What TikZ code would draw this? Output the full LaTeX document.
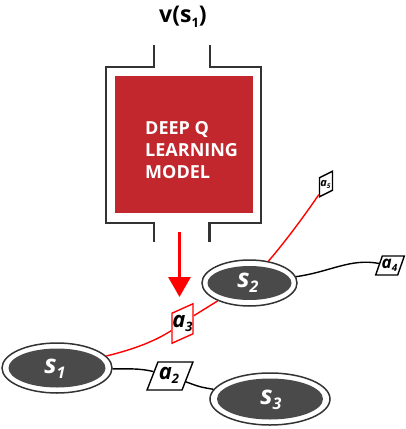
\documentclass[tikz,border=0pt]{standalone}
\usepackage{fontspec}
\setmainfont{Open Sans}
\setsansfont{Open Sans}
\usetikzlibrary{shapes.geometric,arrows.meta}
\definecolor{boxred}{HTML}{C1272D}
\definecolor{darkfill}{HTML}{4A4A4A}
\definecolor{linegray}{HTML}{333333}
\newcommand{\lowsub}[3]{\raisebox{-#2pt}{\fontsize{#1}{#1}\selectfont #3}}
\begin{document}
\begin{tikzpicture}[x=1pt,y=-1pt,
  outerell/.style={ellipse, draw=linegray, line width=1.5, fill=white, inner sep=0},
  innerell/.style={ellipse, fill=darkfill, inner sep=0},
  slabel/.style={text=white, inner sep=0, font=\fontsize{26}{26}\selectfont\bfseries\itshape},
  abox/.style={draw=black, line width=1.4, fill=white, inner sep=0, transform shape},
  alabel/.style={inner sep=0, text=black},
  conn/.style={line width=1.4},
  redconn/.style={line width=1.4, red},
  frame/.style={draw=linegray, line width=2.5}]
\useasboundingbox (0,0) rectangle (406,429);
% title
\node[font=\fontsize{23}{23}\selectfont\bfseries, inner sep=0] (title) at (183,17) {v(s\lowsub{13}{5}{1})};
% container
\draw[frame] (154,45) -- (154,67) -- (106,67) -- (106,223) -- (154,223) -- (154,242);
\draw[frame] (210,45) -- (210,67) -- (261,67) -- (261,223) -- (209.5,223) -- (209.5,242);
% model box
\node[fill=boxred, minimum width=138, minimum height=137, inner sep=0] (model) at (184,144.5) {};
\node[anchor=north west, inner sep=0, align=left, text=white,
  font=\fontsize{18}{21.7}\selectfont\bfseries] (modeltext) at (145,121.5) {DEEP Q\\LEARNING\\MODEL};
% arrow
\coordinate (arrS) at (179.5,232);
\coordinate (arrE) at (179.5,297);
\draw[red, line width=3, -{Triangle[width=22,length=20]}] (arrS) -- (arrE);
% states
\node[outerell, minimum width=110, minimum height=50] (s1) at (57,368) {};
\node[innerell, minimum width=97, minimum height=39] (s1in) at (s1) {};
\node[slabel] (s1lab) at (55,369) {s\lowsub{16}{5}{1}};
\node[outerell, minimum width=95, minimum height=46] (s2) at (249.5,283) {};
\node[innerell, minimum width=84, minimum height=34] (s2in) at (s2) {};
\node[slabel] (s2lab) at (248,283) {s\lowsub{16}{5}{2}};
\node[outerell, minimum width=120, minimum height=52] (s3) at (270,399) {};
\node[innerell, minimum width=106, minimum height=41] (s3in) at (s3) {};
\node[slabel] (s3lab) at (271,400) {s\lowsub{16}{5}{3}};
% actions
\node[abox, draw=red, yslant=0.45, minimum width=21, minimum height=30] (a3) at (182.5,323.5) {};
\node[alabel, font=\fontsize{22}{22}\selectfont\bfseries\itshape] (a3lab) at (182.5,323) {a\lowsub{13}{4}{3}};
\node[abox, xslant=0.39, minimum width=35, minimum height=28] (a2) at (170,376) {};
\node[alabel, font=\fontsize{22}{22}\selectfont\bfseries\itshape] (a2lab) at (169,375) {a\lowsub{13}{4}{2}};
\node[abox, xslant=0.35, minimum width=22, minimum height=19] (a4) at (390,265.5) {};
\node[alabel, font=\fontsize{17}{17}\selectfont\bfseries\itshape] (a4lab) at (389.5,265) {a\lowsub{10}{3}{4}};
\node[abox, yslant=0.5, minimum width=13, minimum height=19] (a5) at (326,184) {};
\node[alabel, font=\fontsize{11}{11}\selectfont\bfseries\itshape] (a5lab) at (325.5,184) {a\lowsub{6.5}{2}{5}};
% connectors
\draw[redconn] (s1) .. controls (135,349) and (155,341) .. (a3);
\draw[redconn] (a3) .. controls (205,308) .. (s2);
\draw[redconn] (s2) .. controls (285,242) and (305,215) .. (a5);
\draw[conn] (s2) .. controls (330,272) and (350,258) .. (a4);
\draw[conn] (s1) .. controls (125,369) and (140,368) .. (a2);
\draw[conn] (a2) .. controls (200,387) .. (s3);
\end{tikzpicture}
\end{document}
